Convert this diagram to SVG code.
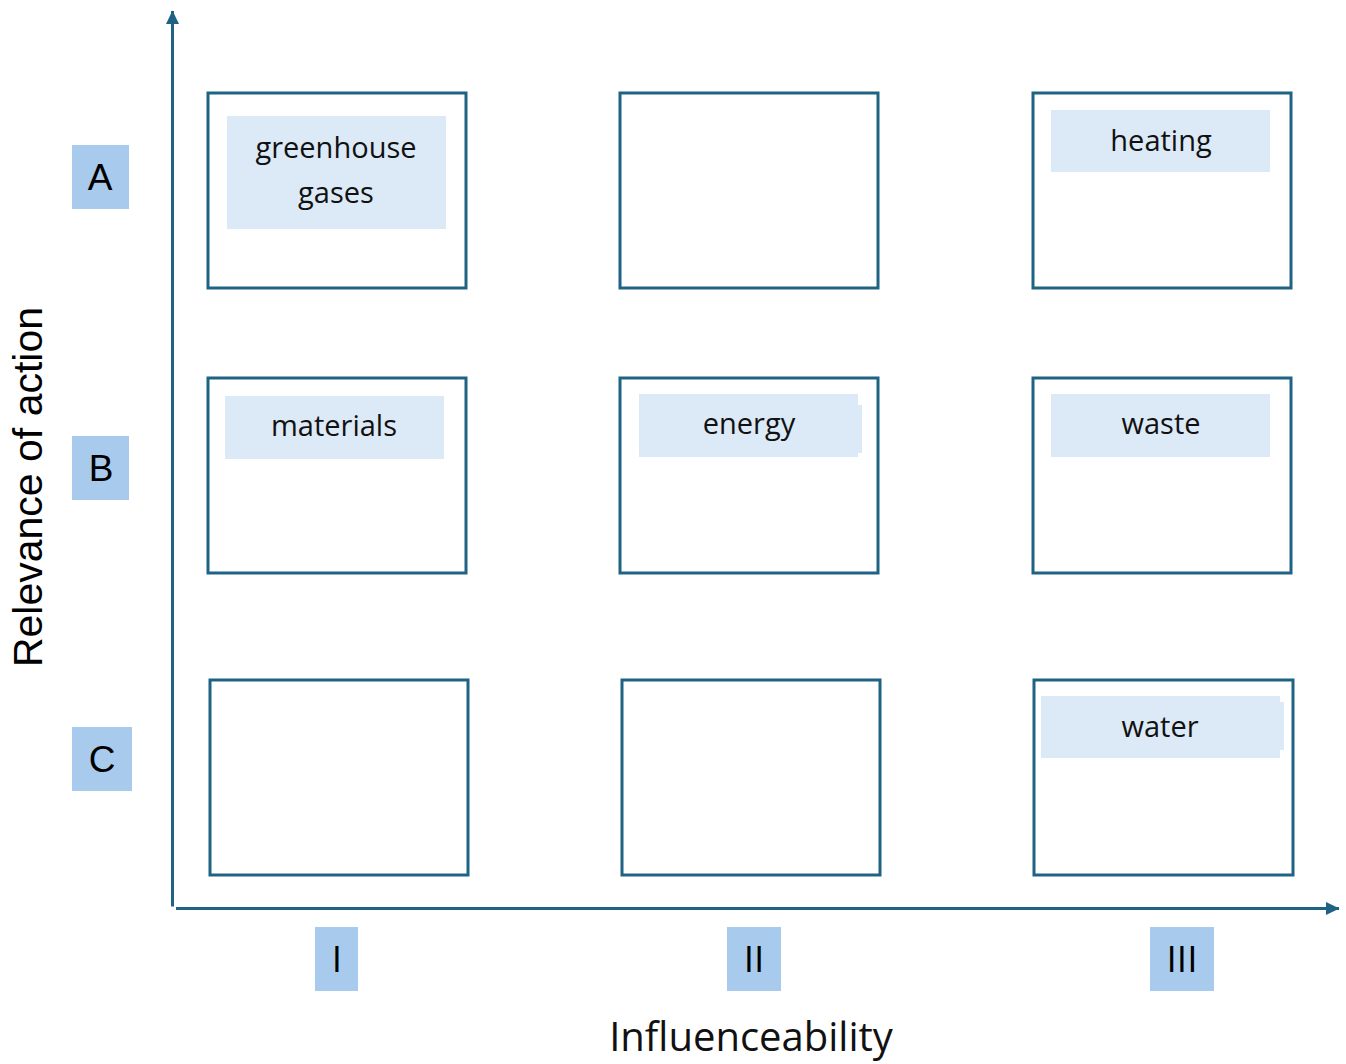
<svg xmlns="http://www.w3.org/2000/svg" width="1346" height="1064" viewBox="0 0 1346 1064">
<style>
.cell{fill:#ffffff;stroke:#1e6384;stroke-width:3}
.tag{fill:#dce9f6}
.lab{fill:#a8caec}
.axis{stroke:#1e6384;stroke-width:3;fill:none}
.t{font-family:"Open Sans","Noto Sans",sans-serif;font-size:29px;fill:#111111;text-anchor:middle}
.a{font-family:"Liberation Sans",Arial,sans-serif;font-size:37px;fill:#000000;text-anchor:middle}
.n{font-family:"Open Sans","Noto Sans",sans-serif;font-size:37px;fill:#000000;text-anchor:middle}
</style>
<defs>
<marker id="arr" viewBox="0 0 14 14" refX="13" refY="7" markerWidth="14" markerHeight="14" markerUnits="userSpaceOnUse" orient="auto">
<path d="M0,0.5 L13.5,7 L0,13.5 Z" fill="#1e6384"/>
</marker>
</defs>
<rect width="1346" height="1064" fill="#ffffff"/>
<g id="connectors">
<line class="axis" x1="172.5" y1="906.5" x2="172.5" y2="11" marker-end="url(#arr)"/>
<line class="axis" x1="176" y1="908.5" x2="1339" y2="908.5" marker-end="url(#arr)"/>
</g>
<g id="cell-A-I"><rect class="cell" x="208" y="93" width="258" height="195"/><rect class="tag" x="227" y="116" width="219" height="113"/><text class="t" x="336" y="158">greenhouse</text><text class="t" x="336" y="203">gases</text></g>
<g id="cell-A-II"><rect class="cell" x="620" y="93" width="258" height="195"/></g>
<g id="cell-A-III"><rect class="cell" x="1033" y="93" width="258" height="195"/><rect class="tag" x="1051" y="110" width="219" height="62"/><text class="t" x="1161" y="151">heating</text></g>
<g id="cell-B-I"><rect class="cell" x="208" y="378" width="258" height="195"/><rect class="tag" x="225" y="396" width="219" height="63"/><text class="t" x="334" y="436">materials</text></g>
<g id="cell-B-II"><rect class="cell" x="620" y="378" width="258" height="195"/><rect class="tag" x="639" y="394" width="219" height="63"/><rect class="tag" x="857" y="405" width="5" height="48"/><text class="t" x="749" y="434">energy</text></g>
<g id="cell-B-III"><rect class="cell" x="1033" y="378" width="258" height="195"/><rect class="tag" x="1051" y="394" width="219" height="63"/><text class="t" x="1161" y="434">waste</text></g>
<g id="cell-C-I"><rect class="cell" x="210" y="680" width="258" height="195"/></g>
<g id="cell-C-II"><rect class="cell" x="622" y="680" width="258" height="195"/></g>
<g id="cell-C-III"><rect class="cell" x="1034" y="680" width="259" height="195"/><rect class="tag" x="1041" y="696" width="239" height="62"/><rect class="tag" x="1279" y="702" width="5" height="48"/><text class="t" x="1160" y="737">water</text></g>
<g id="label-A"><rect class="lab" x="72" y="145" width="57" height="64"/><text class="a" x="100" y="190">A</text></g>
<g id="label-B"><rect class="lab" x="72" y="436" width="57" height="64"/><text class="a" x="101" y="481">B</text></g>
<g id="label-C"><rect class="lab" x="72" y="727" width="60" height="64"/><text class="a" x="102" y="772">C</text></g>
<g id="label-I"><rect class="lab" x="315" y="927" width="43" height="64"/><text class="n" x="337" y="972">I</text></g>
<g id="label-II"><rect class="lab" x="727" y="927" width="54" height="64"/><text class="n" x="754" y="972">II</text></g>
<g id="label-III"><rect class="lab" x="1150" y="927" width="64" height="64"/><text class="n" x="1182" y="972">III</text></g>
<g id="axis-y-title"><text transform="translate(42,487) rotate(-90)" font-family="'Liberation Sans',Arial,sans-serif" font-size="41" fill="#000000" text-anchor="middle">Relevance of action</text></g>
<g id="axis-x-title"><text x="751" y="1051" font-family="'Open Sans','Noto Sans',sans-serif" font-size="40" fill="#111111" text-anchor="middle">Influenceability</text></g>
</svg>
